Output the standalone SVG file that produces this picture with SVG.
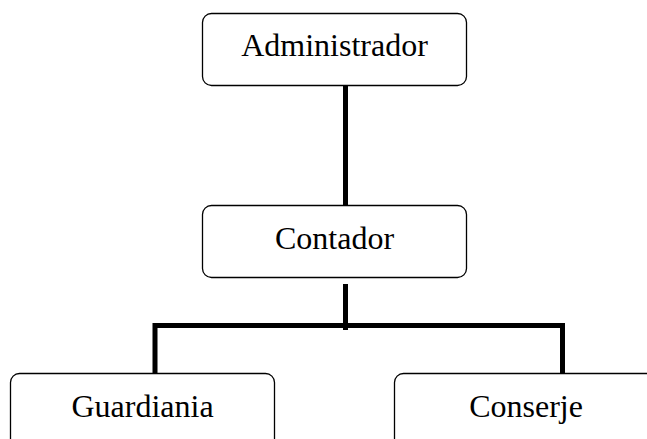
<svg xmlns="http://www.w3.org/2000/svg" width="647" height="439" viewBox="0 0 647 439">
<style>
.box{fill:#fff;stroke:#000;stroke-width:1.3}
.lbl{font-family:"Liberation Serif","Times New Roman",serif;font-size:32px;fill:#000;text-anchor:middle}
.con{fill:none;stroke:#000;stroke-width:5}
</style>
<rect width="647" height="439" fill="#fff"/>
<g id="connectors">
<line class="con" x1="345.5" y1="85" x2="345.5" y2="205"/>
<line class="con" x1="345.5" y1="284" x2="345.5" y2="330"/>
<polyline class="con" points="155,379 155,325.5 562.5,325.5 562.5,379"/>
</g>
<g id="administrador">
<rect class="box" x="202.5" y="13.5" width="264" height="72" rx="9"/>
<text class="lbl" x="334.5" y="56">Administrador</text>
</g>
<g id="contador">
<rect class="box" x="202.5" y="205.5" width="264" height="72" rx="9"/>
<text class="lbl" x="334.5" y="249">Contador</text>
</g>
<g id="guardiania">
<rect class="box" x="10.5" y="373.5" width="264" height="90" rx="9"/>
<text class="lbl" x="142.5" y="417">Guardiania</text>
</g>
<g id="conserje">
<rect class="box" x="394.5" y="373.5" width="264" height="90" rx="9"/>
<text class="lbl" x="526" y="417">Conserje</text>
</g>
</svg>
